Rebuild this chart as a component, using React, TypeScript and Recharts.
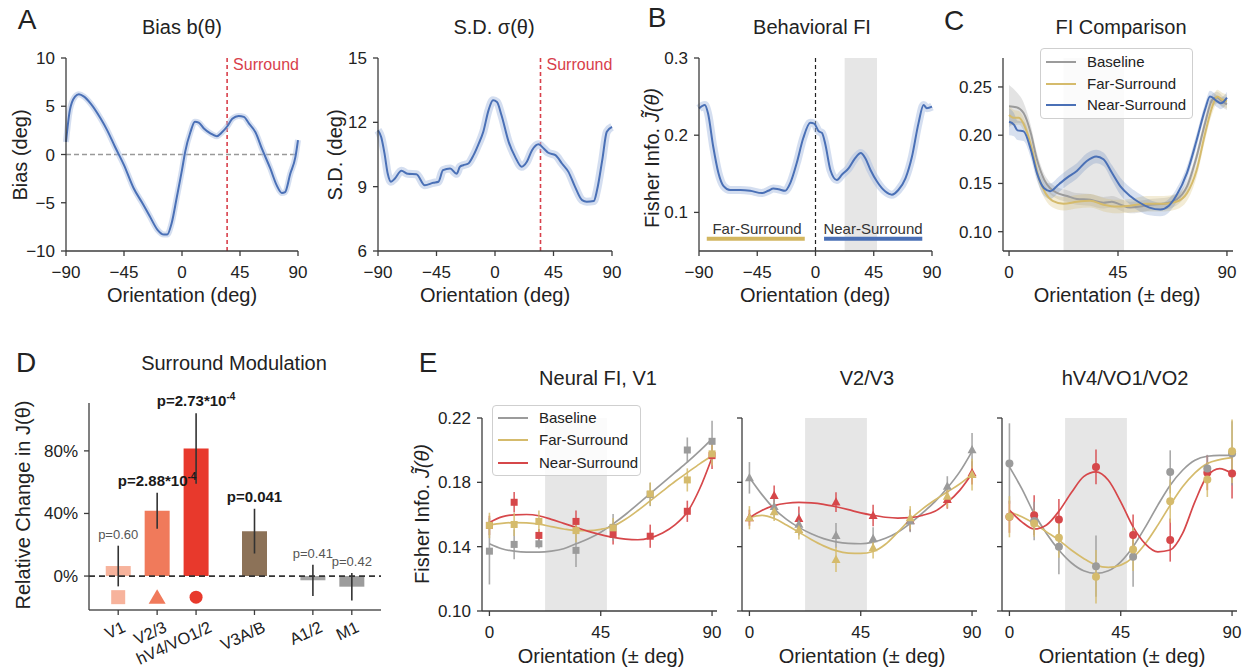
import React from 'react';
import {
  ComposedChart, Line, Area, Bar, Cell, Scatter, ErrorBar,
  XAxis, YAxis, ReferenceLine, ReferenceArea,
} from 'recharts';

const FONT = '"Liberation Sans", Arial, Helvetica, sans-serif';
const AXIS = '#3c3c3c';
const BLUE = '#4a70b6';
const BLUE_BAND = '#a9bee2';
const GRAY = '#9b9b9b';
const GOLD = '#d5bb6c';
const RED = '#d6474a';
const SURR = '#d8404b';
const SHADE = '#e6e6e6';

// A: bias b(theta)
const biasX = [-90, -87, -83, -80, -76, -71, -63, -58, -52, -45, -37.5, -30, -25, -19, -14, -11.5, -8, -4, 0, 2.5, 6.5, 10, 13, 17, 22, 27, 31, 35, 39, 44, 48, 52, 57, 62, 68.5, 73.5, 77.5, 80, 84, 88, 90];
const biasY = [1.3, 4.6, 6.0, 6.25, 6.0, 5.3, 3.7, 2.5, 0.8, -1.1, -3.5, -5.2, -6.4, -7.8, -8.3, -8.3, -7.1, -4.4, -1.6, 0.3, 2.3, 3.4, 3.3, 2.7, 2.2, 1.9, 2.3, 2.9, 3.7, 4.0, 3.9, 3.2, 2.3, 0.6, -1.45, -3.2, -4.0, -3.9, -2.0, -0.25, 1.5];

// A: s.d. sigma(theta)
const sdX = [-90, -87.5, -85, -82.5, -80, -77, -72, -67, -60.5, -54, -47.5, -43.5, -40, -34.5, -29.5, -27, -24.5, -20.5, -16.5, -13, -9, -5, -1.5, 1.5, 5, 10.5, 15.5, 20.5, 24.5, 28.5, 33.5, 37.5, 41, 46.5, 51.5, 56.5, 61.5, 67, 70.5, 76, 78.5, 82.5, 86, 90];
const sdY = [11.63, 11.3, 10.55, 9.6, 9.23, 9.38, 9.74, 9.6, 9.58, 9.07, 9.18, 9.23, 9.77, 9.85, 9.6, 9.93, 10.0, 10.08, 10.47, 10.94, 11.56, 12.56, 13.03, 12.95, 12.33, 11.09, 10.39, 9.93, 10.16, 10.7, 10.98, 10.78, 10.58, 10.47, 10.08, 9.69, 9.0, 8.37, 8.3, 8.33, 8.84, 10.24, 11.56, 11.79];

// B: behavioral FI
const fiX = [-90, -85.5, -83, -79, -75, -71, -66, -58, -50.5, -41.5, -36.5, -32.5, -28.5, -23.5, -19.5, -14.5, -9.5, -4, -1, 2.5, 5, 7.5, 11.5, 16.5, 20.5, 25.5, 30.5, 35, 38.5, 42.5, 47.5, 54, 59, 64, 69.5, 74.5, 79.5, 83.5, 86, 90];
const fiY = [0.2346, 0.239, 0.228, 0.185, 0.151, 0.134, 0.129, 0.129, 0.128, 0.125, 0.128, 0.131, 0.13, 0.128, 0.138, 0.164, 0.196, 0.216, 0.215, 0.205, 0.203, 0.189, 0.155, 0.142, 0.149, 0.157, 0.17, 0.177, 0.17, 0.155, 0.14, 0.127, 0.123, 0.129, 0.144, 0.172, 0.215, 0.239, 0.235, 0.237];

// C: FI comparison
const cBaseX = [0, 3, 6, 9, 11.5, 14.5, 17, 20, 24, 28, 33.5, 39, 42.5, 46, 50, 54, 58, 64, 69, 73.5, 77.5, 81, 84, 86, 88, 90];
const cBaseY = [0.230, 0.229, 0.223, 0.202, 0.175, 0.154, 0.145, 0.140, 0.137, 0.134, 0.133, 0.130, 0.131, 0.128, 0.125, 0.126, 0.128, 0.129, 0.133, 0.147, 0.178, 0.213, 0.237, 0.239, 0.235, 0.232];
const cBaseErr = [0.022, 0.016, 0.011, 0.008, 0.007, 0.006, 0.006, 0.006, 0.006, 0.006, 0.006, 0.006, 0.006, 0.006, 0.006, 0.006, 0.006, 0.006, 0.006, 0.006, 0.006, 0.006, 0.006, 0.006, 0.006, 0.006];
const cFarX = [0, 2, 4, 6.5, 9.5, 12, 15, 18, 22.5, 28, 33.5, 39, 44.5, 50, 57, 64, 69, 73.5, 77.5, 81, 84, 86, 88, 90];
const cFarY = [0.221, 0.218, 0.218, 0.209, 0.185, 0.158, 0.140, 0.132, 0.129, 0.131, 0.132, 0.128, 0.126, 0.127, 0.129, 0.129, 0.131, 0.140, 0.164, 0.202, 0.230, 0.240, 0.237, 0.235];
const cFarErr = [0.01, 0.008, 0.007, 0.007, 0.007, 0.007, 0.007, 0.007, 0.007, 0.007, 0.007, 0.007, 0.007, 0.007, 0.008, 0.008, 0.008, 0.008, 0.007, 0.007, 0.007, 0.007, 0.007, 0.007];
const cNearX = [0, 2, 3.5, 6, 9, 11.5, 14.5, 17, 20.5, 24, 28, 32, 36, 39, 42.5, 46, 50, 54, 58, 62.5, 66, 69, 73.5, 77.5, 81, 83, 86, 87.5, 90];
const cNearY = [0.214, 0.211, 0.205, 0.204, 0.185, 0.161, 0.145, 0.142, 0.149, 0.156, 0.163, 0.173, 0.178, 0.175, 0.161, 0.147, 0.137, 0.130, 0.125, 0.123, 0.127, 0.137, 0.161, 0.195, 0.227, 0.240, 0.235, 0.233, 0.239];
const cNearErr = [0.014, 0.012, 0.01, 0.01, 0.009, 0.008, 0.008, 0.008, 0.008, 0.008, 0.008, 0.008, 0.007, 0.007, 0.008, 0.009, 0.009, 0.009, 0.008, 0.007, 0.007, 0.007, 0.007, 0.007, 0.006, 0.006, 0.006, 0.006, 0.006];

// D: surround modulation
const dLabels = ['V1', 'V2/3', 'hV4/VO1/2', 'V3A/B', 'A1/2', 'M1'];
const dPos = [0, 1, 2, 3.5, 5, 6];
const dVals = [6.4, 41.7, 81.5, 28.7, -2.7, -6.8];
const dErr = [13, 11.5, 22.5, 14.3, 10, 8.8];
const dColors = ['#f7b39c', '#f07a5b', '#e8392c', '#8c7258', '#a3a3a3', '#9c9c9c'];
const dPText = ['p=0.60', 'p=2.88*10', 'p=2.73*10', 'p=0.041', 'p=0.41', 'p=0.42'];
const dPSup = ['', '-4', '-4', '', '', ''];
const dPBold = [false, true, true, true, false, false];
const dMarkers = ['square', 'triangle', 'circle'];
const dMarkerY = -13.5;

// E: neural FI
const eX = [0, 10, 20, 35, 50, 65, 80, 90];
const fitX = [0, 5, 10, 15, 20, 25, 30, 35, 40, 45, 50, 55, 60, 65, 70, 75, 80, 85, 90];

const e1BaseY = [0.1372, 0.1414, 0.1418, 0.1377, 0.152, 0.1724, 0.2001, 0.2055];
const e1BaseErr = [0.0207, 0.0093, 0.003, 0.0103, 0.0083, 0.0072, 0.0078, 0.0128];
const e1FarY = [0.1532, 0.1538, 0.1557, 0.150, 0.1517, 0.1728, 0.1815, 0.1977];
const e1FarErr = [0.0079, 0.0072, 0.0068, 0.0072, 0.0062, 0.0072, 0.0072, 0.0072];
const e1NearY = [0.1532, 0.1676, 0.147, 0.1557, 0.1476, 0.1465, 0.162, 0.1966];
const e1NearErr = [0.006, 0.0064, 0.004, 0.0068, 0.0062, 0.0072, 0.0066, 0.0083];
const e1BaseFit = [0.1418, 0.1387, 0.1372, 0.1366, 0.1366, 0.1372, 0.1387, 0.1418, 0.1449, 0.149, 0.1542, 0.160, 0.1665, 0.173, 0.1795, 0.186, 0.1925, 0.1995, 0.207];
const e1FarFit = [0.1535, 0.1545, 0.155, 0.1548, 0.154, 0.1525, 0.151, 0.150, 0.150, 0.1508, 0.1527, 0.157, 0.1625, 0.1685, 0.1745, 0.1805, 0.186, 0.1915, 0.1966];
const e1NearFit = [0.155, 0.1585, 0.1598, 0.160, 0.1592, 0.157, 0.1545, 0.152, 0.1495, 0.1475, 0.1458, 0.1447, 0.1443, 0.1455, 0.1485, 0.1535, 0.1615, 0.176, 0.1955];

const e2BaseY = [0.1828, 0.165, 0.154, 0.147, 0.145, 0.156, 0.1776, 0.2003];
const e2BaseErr = [0.0098, 0.007, 0.007, 0.0077, 0.007, 0.007, 0.0062, 0.0103];
const e2FarY = [0.158, 0.1617, 0.1507, 0.132, 0.1393, 0.158, 0.1714, 0.1848];
const e2FarErr = [0.0072, 0.0057, 0.0062, 0.0078, 0.0067, 0.0072, 0.0072, 0.0098];
const e2NearY = [0.158, 0.1718, 0.1575, 0.1677, 0.1594, 0.1563, 0.1693, 0.1859];
const e2NearErr = [0.005, 0.0062, 0.0075, 0.0062, 0.0067, 0.0067, 0.0057, 0.0072];
const e2BaseFit = [0.183, 0.1725, 0.1635, 0.157, 0.152, 0.148, 0.145, 0.143, 0.142, 0.1418, 0.1428, 0.1452, 0.149, 0.1545, 0.161, 0.168, 0.1765, 0.1865, 0.1993];
const e2FarFit = [0.158, 0.1595, 0.1575, 0.1535, 0.149, 0.1445, 0.1405, 0.1375, 0.136, 0.1358, 0.137, 0.1415, 0.149, 0.157, 0.1635, 0.169, 0.174, 0.179, 0.185];
const e2NearFit = [0.158, 0.1625, 0.1655, 0.167, 0.1675, 0.1672, 0.1663, 0.1648, 0.163, 0.161, 0.1595, 0.1583, 0.1578, 0.158, 0.1595, 0.162, 0.1675, 0.175, 0.1855];

const e3BaseY = [0.1917, 0.156, 0.1399, 0.1279, 0.1337, 0.1865, 0.1886, 0.198];
const e3BaseErr = [0.025, 0.012, 0.017, 0.019, 0.0186, 0.0134, 0.0085, 0.02];
const e3FarY = [0.1586, 0.1544, 0.1455, 0.1213, 0.1383, 0.1683, 0.1817, 0.1993];
const e3FarErr = [0.0128, 0.0083, 0.0124, 0.0166, 0.0134, 0.0134, 0.0108, 0.0197];
const e3NearY = [0.1586, 0.1596, 0.1569, 0.1896, 0.1472, 0.1441, 0.1859, 0.1855];
const e3NearErr = [0.01, 0.0124, 0.0128, 0.0108, 0.0128, 0.0134, 0.0108, 0.0155];
const e3BaseFit = [0.1896, 0.1761, 0.1606, 0.1482, 0.1379, 0.130, 0.125, 0.1234, 0.125, 0.1306, 0.140, 0.1523, 0.1658, 0.1782, 0.1875, 0.1937, 0.1962, 0.1968, 0.1968];
const e3FarFit = [0.1617, 0.1586, 0.1544, 0.1492, 0.1441, 0.1379, 0.1327, 0.1285, 0.1271, 0.1285, 0.1333, 0.142, 0.1534, 0.1658, 0.1772, 0.1859, 0.1917, 0.1941, 0.1954];
const e3NearFit = [0.1627, 0.1554, 0.151, 0.1535, 0.162, 0.1735, 0.1835, 0.1865, 0.1813, 0.1679, 0.1523, 0.1416, 0.1368, 0.1379, 0.1482, 0.168, 0.184, 0.1885, 0.1855];

const pts = (xs: number[], ys: number[]) => xs.map((x, i) => ({ x, y: ys[i] }));
const bandPts = (xs: number[], ys: number[], es: number[]) =>
  xs.map((x, i) => ({ x, band: [ys[i] - es[i], ys[i] + es[i]] }));
const errPts = (ys: number[], es: number[]) => eX.map((x, i) => ({ x, y: ys[i], err: es[i] }));

const minus = (v: number) => (v < 0 ? '\u2212' + Math.abs(v) : String(v));

const YW = 60;
const MT = 8;
const MR = 14;
const XH = 34;
const tickStyle = { fontSize: 17, fill: '#222' };
const axLine = { stroke: AXIS, strokeWidth: 1.3 };

function xAx(domain: number[], ticks: number[], fmt?: (v: number) => string, extra: any = {}) {
  return (
    <XAxis type="number" dataKey="x" domain={domain} ticks={ticks} tickFormatter={fmt} interval={0}
      height={XH} tickSize={5} tickMargin={10} tick={tickStyle} axisLine={axLine} tickLine={axLine} {...extra} />
  );
}

function yAx(domain: number[], ticks: number[], fmt?: (v: number) => string) {
  return (
    <YAxis type="number" dataKey="y" domain={domain} ticks={ticks} tickFormatter={fmt} interval={0}
      width={YW} tickSize={5} tickMargin={6} tick={tickStyle} axisLine={axLine} tickLine={axLine} />
  );
}

function Panel({ l, t, w, h, data, mt = MT, xh = XH, children }: any) {
  return (
    <div style={{ position: 'absolute', left: l - YW, top: t - mt }}>
      <ComposedChart width={w + YW + MR} height={h + mt + xh} data={data}
        margin={{ top: mt, right: MR, left: 0, bottom: 0 }}>
        {children}
      </ComposedChart>
    </div>
  );
}

function Txt({ x, y, size = 20, rot = 0, color = '#222', bold = false, children }: any) {
  return (
    <div style={{
      position: 'absolute', left: x, top: y, transform: `translate(-50%, -50%) rotate(${rot}deg)`,
      fontSize: size, lineHeight: 1, whiteSpace: 'nowrap', color, fontWeight: bold ? 700 : 400,
    }}>{children}</div>
  );
}

function LegendBox({ l, t, w, h, rows, items }: any) {
  return (
    <div style={{
      position: 'absolute', left: l, top: t, width: w, height: h, boxSizing: 'border-box',
      border: '1px solid #cfcfcf', borderRadius: 4, background: 'rgba(255,255,255,0.82)',
    }}>
      {items.map((it: any, i: number) => (
        <div key={it.name} style={{ position: 'absolute', left: 0, top: rows[i], width: w, height: 0 }}>
          <div style={{ position: 'absolute', left: 5, top: -1, width: 30, height: 2.2, background: it.color }} />
          <div style={{ position: 'absolute', left: 46, top: -8, fontSize: 15, lineHeight: 1, color: '#222', whiteSpace: 'nowrap' }}>{it.name}</div>
        </div>
      ))}
    </div>
  );
}

const SurroundLabel = (props: any) => {
  const vb = props.viewBox || {};
  return <text x={(vb.x ?? 0) + 6} y={(vb.y ?? 0) + 12} fill={SURR} fontSize={16}>Surround</text>;
};

const DTick = (p: any) => {
  const i = dPos.indexOf(p.payload.value);
  const label = dLabels[i] ?? '';
  // longer labels sit a little further right of their tick, as in the source figure
  const x = p.x + 6 + label.length * 1.2;
  const y = p.y + 14;
  return (
    <text x={x} y={y} transform={`rotate(-25 ${x} ${y})`} textAnchor="end" fontSize={16.5} fill="#222">
      {label}
    </text>
  );
};

const pLabelShape = (p: any) => {
  const i = p.payload.i;
  const bold = dPBold[i];
  return (
    <text x={p.cx} y={p.cy - 7} textAnchor="middle" fontSize={bold ? 15 : 13}
      fontWeight={bold ? 700 : 400} fill={bold ? '#1a1a1a' : '#555'}>
      <tspan>{dPText[i]}</tspan>
      {dPSup[i] ? <tspan dy={-6} fontSize={10}>{dPSup[i]}</tspan> : null}
    </text>
  );
};

const dMarkerShape = (p: any) => {
  const { cx, cy, payload } = p;
  const c = dColors[payload.i];
  if (payload.s === 'square') return <rect x={cx - 7} y={cy - 7} width={14} height={14} fill={c} />;
  if (payload.s === 'triangle')
    return <polygon points={`${cx},${cy - 8} ${cx + 8.5},${cy + 6.5} ${cx - 8.5},${cy + 6.5}`} fill={c} />;
  return <circle cx={cx} cy={cy} r={6.5} fill={c} />;
};

const mk = (kind: string, color: string) => (p: any) => {
  const { cx, cy } = p;
  if (cx == null || cy == null) return <g />;
  if (kind === 'square') return <rect x={cx - 3.5} y={cy - 3.5} width={7} height={7} fill={color} />;
  if (kind === 'triangle')
    return <polygon points={`${cx},${cy - 4.8} ${cx + 4.5},${cy + 3.5} ${cx - 4.5},${cy + 3.5}`} fill={color} />;
  return <circle cx={cx} cy={cy} r={4} fill={color} />;
};

const eLine = (xs: number[], ys: number[], color: string) => (
  <Line data={pts(xs, ys)} dataKey="y" type="monotone" stroke={color} strokeWidth={1.7}
    dot={false} activeDot={false} isAnimationActive={false} />
);

const eScatter = (ys: number[], es: number[], color: string, kind: string) => (
  <Scatter data={errPts(ys, es)} dataKey="y" shape={mk(kind, color)} isAnimationActive={false}>
    <ErrorBar dataKey="err" direction="y" width={0} stroke={color} strokeWidth={1.6} strokeOpacity={0.85} />
  </Scatter>
);

function NeuralPanel({ l, labels, kind, base, far, near }: any) {
  return (
    <Panel l={l} t={418} w={235} h={193}>
      <ReferenceArea x1={22.5} x2={47.5} fill={SHADE} fillOpacity={1} stroke="none" />
      {xAx([-3, 92], [0, 45, 90])}
      {yAx([0.1, 0.22], [0.1, 0.14, 0.18, 0.22], labels ? (v: number) => v.toFixed(2) : () => '')}
      {eLine(fitX, base[2], GRAY)}
      {eLine(fitX, far[2], GOLD)}
      {eLine(fitX, near[2], RED)}
      {eScatter(near[0], near[1], RED, kind)}
      {eScatter(base[0], base[1], GRAY, kind)}
      {eScatter(far[0], far[1], GOLD, kind)}
    </Panel>
  );
}

export default function App() {
  const dData = dPos.map((x, i) => ({ x, y: dVals[i], err: dErr[i] }));
  const dPData = dPos.map((x, i) => ({ x, y: dVals[i] + dErr[i], i }));
  const dMarkData = dMarkers.map((s, i) => ({ x: dPos[i], y: dMarkerY, s, i }));
  const fisherLabel = (
    <span>Fisher Info. <i>J&#771;(&theta;)</i></span>
  );

  return (
    <div style={{
      position: 'absolute', left: 0, top: 0, width: 1245, height: 671, overflow: 'hidden',
      background: '#fff', fontFamily: FONT, color: '#222',
    }}>
      {/* A: bias */}
      <Panel l={66} t={58} w={232} h={193}>
        {xAx([-90, 90], [-90, -45, 0, 45, 90], minus)}
        {yAx([-10, 10], [-10, -5, 0, 5, 10], minus)}
        <ReferenceLine y={0} stroke="#999" strokeDasharray="5 3" strokeWidth={1.3} />
        <ReferenceLine x={35} stroke={SURR} strokeDasharray="4 3" strokeWidth={1.6} label={<SurroundLabel />} />
        <Line data={pts(biasX, biasY)} dataKey="y" type="monotone" stroke={BLUE_BAND} strokeOpacity={0.5}
          strokeWidth={6} dot={false} activeDot={false} isAnimationActive={false} />
        <Line data={pts(biasX, biasY)} dataKey="y" type="monotone" stroke={BLUE} strokeWidth={2}
          dot={false} activeDot={false} isAnimationActive={false} />
      </Panel>

      {/* A: s.d. */}
      <Panel l={378} t={58} w={234} h={193}>
        {xAx([-90, 90], [-90, -45, 0, 45, 90], minus)}
        {yAx([6, 15], [6, 9, 12, 15])}
        <ReferenceLine x={35} stroke={SURR} strokeDasharray="4 3" strokeWidth={1.6} label={<SurroundLabel />} />
        <Line data={pts(sdX, sdY)} dataKey="y" type="monotone" stroke={BLUE_BAND} strokeOpacity={0.5}
          strokeWidth={8} dot={false} activeDot={false} isAnimationActive={false} />
        <Line data={pts(sdX, sdY)} dataKey="y" type="monotone" stroke={BLUE} strokeWidth={2}
          dot={false} activeDot={false} isAnimationActive={false} />
      </Panel>

      {/* B: behavioral FI */}
      <Panel l={699} t={58} w={233} h={193}>
        <ReferenceArea x1={22.5} x2={47.5} fill={SHADE} fillOpacity={1} stroke="none" />
        {xAx([-90, 90], [-90, -45, 0, 45, 90], minus)}
        {yAx([0.05, 0.3], [0.1, 0.2, 0.3])}
        <ReferenceLine x={0} stroke="#222" strokeDasharray="4 3" strokeWidth={1.2} />
        <ReferenceLine segment={[{ x: -84, y: 0.066 }, { x: -8.3, y: 0.066 }]} stroke="#d2b660" strokeWidth={4} />
        <ReferenceLine segment={[{ x: 6.6, y: 0.066 }, { x: 82.5, y: 0.066 }]} stroke={BLUE} strokeWidth={4} />
        <Line data={pts(fiX, fiY)} dataKey="y" type="monotone" stroke={BLUE_BAND} strokeOpacity={0.5}
          strokeWidth={8} dot={false} activeDot={false} isAnimationActive={false} />
        <Line data={pts(fiX, fiY)} dataKey="y" type="monotone" stroke={BLUE} strokeWidth={2}
          dot={false} activeDot={false} isAnimationActive={false} />
      </Panel>

      {/* C: FI comparison */}
      <Panel l={1003} t={58} w={230} h={193}>
        <ReferenceArea x1={22.5} x2={47.5} fill={SHADE} fillOpacity={1} stroke="none" />
        {xAx([-2.5, 92.5], [0, 45, 90])}
        {yAx([0.08, 0.28], [0.1, 0.15, 0.2, 0.25], (v: number) => v.toFixed(2))}
        <Area data={bandPts(cBaseX, cBaseY, cBaseErr)} dataKey="band" type="monotone" stroke="none"
          fill={GRAY} fillOpacity={0.28} isAnimationActive={false} />
        <Area data={bandPts(cFarX, cFarY, cFarErr)} dataKey="band" type="monotone" stroke="none"
          fill={GOLD} fillOpacity={0.28} isAnimationActive={false} />
        <Area data={bandPts(cNearX, cNearY, cNearErr)} dataKey="band" type="monotone" stroke="none"
          fill={BLUE} fillOpacity={0.22} isAnimationActive={false} />
        <Line data={pts(cBaseX, cBaseY)} dataKey="y" type="monotone" stroke={GRAY} strokeWidth={2}
          dot={false} activeDot={false} isAnimationActive={false} />
        <Line data={pts(cFarX, cFarY)} dataKey="y" type="monotone" stroke={GOLD} strokeWidth={2}
          dot={false} activeDot={false} isAnimationActive={false} />
        <Line data={pts(cNearX, cNearY)} dataKey="y" type="monotone" stroke={BLUE} strokeWidth={2}
          dot={false} activeDot={false} isAnimationActive={false} />
      </Panel>

      {/* D: surround modulation */}
      <Panel l={89} t={403} w={292} h={207} data={dData} mt={40} xh={61}>
        {xAx([-0.75, 6.75], dPos, undefined, { tick: DTick, tickMargin: 2, height: 61, axisLine: { stroke: '#555', strokeWidth: 1.3 } })}
        {yAx([-21.7, 110.6], [0, 40, 80], (v: number) => `${v}%`)}
        <Bar dataKey="y" barSize={25} isAnimationActive={false}>
          {dData.map((_, i) => <Cell key={i} fill={dColors[i]} />)}
          <ErrorBar dataKey="err" direction="y" width={0} stroke="#333" strokeWidth={1.6} />
        </Bar>
        <ReferenceLine y={0} stroke="#333" strokeDasharray="6 4" strokeWidth={1.8} />
        <Scatter data={dMarkData} dataKey="y" shape={dMarkerShape} isAnimationActive={false} />
        <Scatter data={dPData} dataKey="y" shape={pLabelShape} isAnimationActive={false} />
      </Panel>

      {/* E: neural FI */}
      <NeuralPanel l={482} labels kind="square"
        base={[e1BaseY, e1BaseErr, e1BaseFit]} far={[e1FarY, e1FarErr, e1FarFit]} near={[e1NearY, e1NearErr, e1NearFit]} />
      <NeuralPanel l={742} labels={false} kind="triangle"
        base={[e2BaseY, e2BaseErr, e2BaseFit]} far={[e2FarY, e2FarErr, e2FarFit]} near={[e2NearY, e2NearErr, e2NearFit]} />
      <NeuralPanel l={1002} labels={false} kind="circle"
        base={[e3BaseY, e3BaseErr, e3BaseFit]} far={[e3FarY, e3FarErr, e3FarFit]} near={[e3NearY, e3NearErr, e3NearFit]} />

      {/* legends */}
      <LegendBox l={1040} t={48} w={153} h={71} rows={[13, 35, 56]}
        items={[{ name: 'Baseline', color: GRAY }, { name: 'Far-Surround', color: GOLD }, { name: 'Near-Surround', color: BLUE }]} />
      <LegendBox l={492} t={405} w={149} h={71} rows={[12, 34, 57]}
        items={[{ name: 'Baseline', color: GRAY }, { name: 'Far-Surround', color: GOLD }, { name: 'Near-Surround', color: RED }]} />

      {/* panel letters */}
      <Txt x={27} y={20} size={28}>A</Txt>
      <Txt x={657} y={18} size={28}>B</Txt>
      <Txt x={954} y={21} size={28}>C</Txt>
      <Txt x={26} y={363} size={28}>D</Txt>
      <Txt x={428} y={363} size={28}>E</Txt>

      {/* titles */}
      <Txt x={182} y={27}>Bias b(θ)</Txt>
      <Txt x={494} y={27}>S.D. σ(θ)</Txt>
      <Txt x={812} y={27}>Behavioral FI</Txt>
      <Txt x={1121} y={27}>FI Comparison</Txt>
      <Txt x={234} y={363}>Surround Modulation</Txt>
      <Txt x={598} y={378}>Neural FI, V1</Txt>
      <Txt x={867} y={378}>V2/V3</Txt>
      <Txt x={1125} y={378}>hV4/VO1/VO2</Txt>

      {/* axis titles */}
      <Txt x={182} y={295}>Orientation (deg)</Txt>
      <Txt x={495} y={295}>Orientation (deg)</Txt>
      <Txt x={815} y={295}>Orientation (deg)</Txt>
      <Txt x={1117} y={295}>Orientation (± deg)</Txt>
      <Txt x={601} y={656}>Orientation (± deg)</Txt>
      <Txt x={862} y={656}>Orientation (± deg)</Txt>
      <Txt x={1122} y={656}>Orientation (± deg)</Txt>
      <Txt x={20} y={155} rot={-90}>Bias (deg)</Txt>
      <Txt x={335} y={155} rot={-90}>S.D. (deg)</Txt>
      <Txt x={652} y={158} rot={-90}>{fisherLabel}</Txt>
      <Txt x={23} y={505} rot={-90}>Relative Change in J(θ)</Txt>
      <Txt x={422} y={514} rot={-90}>{fisherLabel}</Txt>

      {/* behavioral FI segment labels */}
      <Txt x={757} y={228} size={15} color="#333">Far-Surround</Txt>
      <Txt x={873} y={228} size={15} color="#333">Near-Surround</Txt>
    </div>
  );
}
